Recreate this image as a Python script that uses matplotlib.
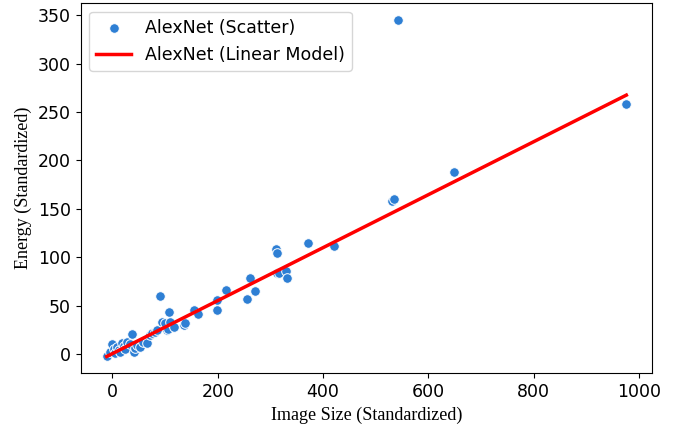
import matplotlib
matplotlib.use("Agg")
import matplotlib.pyplot as plt

# AlexNet: standardized image size vs energy
image_size = [-10, -4, 0, 2, 5, 8, 12, 15, 18, 22, 24, 28, 34, 37, 40, 43, 47,
              53, 58, 65, 72, 75, 81, 84, 90, 94, 100, 103, 106, 108, 110, 116,
              135, 138, 154, 163, 198, 199, 216, 256, 262, 271, 311, 312, 312,
              316, 330, 331, 372, 421, 530, 534, 543, 648, 976]
energy = [-2, 2.4, 10, 5, 0.7, 7.5, 4, 2.4, 11, 8, 4.8, 12, 10.3, 20.7, 2.4,
          5.9, 9, 7.5, 12, 11, 19.6, 21.4, 23, 24.8, 60.3, 33.4, 31.7, 24.8,
          25.5, 43.7, 33.4, 28.2, 30, 32.4, 45.5, 41.2, 56.3, 45.5, 66, 56.9,
          78.3, 64.8, 108.6, 104, 83.5, 84, 85.8, 78.3, 115, 111.7, 158, 160,
          345, 188, 258]

# fitted linear model, evaluated at the ends of the data range
fit_x = [-11, 976]
fit_y = [-2.5, 267.5]

fig = plt.figure(figsize=(6.87, 4.32), dpi=100)
ax = fig.add_axes([0.1175, 0.1359, 0.832, 0.8565])

ax.scatter(image_size, energy, s=48, color="#2e7fd4", edgecolors="white",
           linewidths=0.7, label="AlexNet (Scatter)", zorder=2)
ax.plot(fit_x, fit_y, color="red", lw=2.5, label="AlexNet (Linear Model)",
        zorder=3)

ax.set_xticks([0, 200, 400, 600, 800, 1000])
ax.set_yticks([0, 50, 100, 150, 200, 250, 300, 350])
ax.tick_params(labelsize=12.5)
ax.set_xlabel("Image Size (Standardized)", family="Liberation Serif",
              fontsize=13)
ax.set_ylabel("Energy (Standardized)", family="Liberation Serif", fontsize=13)
ax.legend(loc="upper left", fontsize=12.5)

fig.savefig("out.png", dpi=100)
